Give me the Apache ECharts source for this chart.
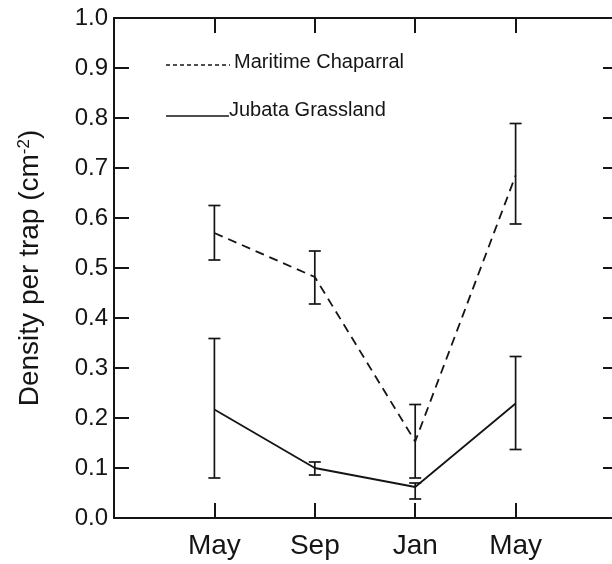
<!DOCTYPE html>
<html>
<head>
<meta charset="utf-8">
<style>
  body { margin: 0; padding: 0; background: #fff; }
  #chart { width: 612px; height: 564px; }
</style>
<script src="https://cdn.jsdelivr.net/npm/echarts@6/dist/echarts.min.js"></script>
</head>
<body>
<div id="chart"></div>
<script>
// sampling months, left to right
var months = ['May', 'Sep', 'Jan', 'May'];

// Maritime Chaparral (dashed)
var chaparral = [0.570, 0.482, 0.153, 0.685];
var chaparralLow = [0.516, 0.428, 0.080, 0.588];
var chaparralHigh = [0.625, 0.534, 0.227, 0.789];

// Jubata Grassland (solid)
var grassland = [0.217, 0.100, 0.062, 0.229];
var grasslandLow = [0.080, 0.086, 0.038, 0.137];
var grasslandHigh = [0.359, 0.112, 0.070, 0.323];

var ink = '#151515';
var font = '"Liberation Sans", Arial, Helvetica, sans-serif';

function pts(vals) {
    return vals.map(function (v, i) { return [i + 1, v]; });
}
function bars(lo, hi) {
    return lo.map(function (v, i) { return [i + 1, v, hi[i]]; });
}

function errorBar(params, api) {
    var x = api.value(0);
    var a = api.coord([x, api.value(1)]);
    var b = api.coord([x, api.value(2)]);
    var w = 6;
    var st = { stroke: ink, lineWidth: 1.7 };
    return {
        type: 'group',
        children: [
            { type: 'line', shape: { x1: a[0], y1: a[1], x2: b[0], y2: b[1] }, style: st },
            { type: 'line', shape: { x1: a[0] - w, y1: a[1], x2: a[0] + w, y2: a[1] }, style: st },
            { type: 'line', shape: { x1: b[0] - w, y1: b[1], x2: b[0] + w, y2: b[1] }, style: st }
        ]
    };
}

var tickStyle = { color: ink, width: 2 };
var lineStyle = { color: ink, width: 2 };

var chart = echarts.init(document.getElementById('chart'));
chart.setOption({
    animation: false,
    backgroundColor: '#fff',
    // right frame edge sits just past the canvas, as in the original
    grid: { left: 114, top: 18, width: 502, height: 500, outerBoundsMode: 'none' },
    xAxis: [
        {
            type: 'value', min: 0, max: 5, position: 'bottom',
            axisLine: { show: true, onZero: false, lineStyle: lineStyle },
            splitLine: { show: false },
            axisTick: { inside: true, length: 15, customValues: [1, 2, 3, 4], lineStyle: tickStyle },
            axisLabel: {
                customValues: [1, 2, 3, 4],
                formatter: function (v) { return months[v - 1]; },
                fontSize: 28, color: ink, fontFamily: font, margin: 14
            }
        },
        {
            type: 'value', min: 0, max: 5, interval: 1, position: 'top',
            axisLine: { show: true, onZero: false, lineStyle: lineStyle },
            splitLine: { show: false },
            axisTick: { show: true, inside: true, length: 15, lineStyle: tickStyle },
            axisLabel: { show: false }
        }
    ],
    yAxis: [
        {
            type: 'value', min: 0, max: 1, interval: 0.1, position: 'left',
            axisLine: { show: true, onZero: false, lineStyle: lineStyle },
            splitLine: { show: false },
            axisTick: { inside: true, length: 15, lineStyle: tickStyle },
            axisLabel: {
                formatter: function (v) { return v.toFixed(1); },
                fontSize: 24, color: ink, fontFamily: font, margin: 6
            },
            name: '{a|Density per trap (cm}{s|-2}{a|)}',
            nameLocation: 'middle',
            nameGap: 70,
            nameTextStyle: {
                rich: {
                    a: { fontSize: 28, color: ink, fontFamily: font },
                    s: { fontSize: 17, color: ink, fontFamily: font, verticalAlign: 'top' }
                }
            }
        },
        {
            type: 'value', min: 0, max: 1, interval: 0.1, position: 'right',
            axisLine: { show: true, onZero: false, lineStyle: lineStyle },
            splitLine: { show: false },
            axisTick: { show: true, inside: true, length: 13, lineStyle: tickStyle },
            axisLabel: { show: false }
        }
    ],
    series: [
        {
            name: 'Maritime Chaparral', type: 'line', data: pts(chaparral),
            symbol: 'none', lineStyle: { color: ink, width: 1.8, type: [9, 6] }
        },
        {
            name: 'Jubata Grassland', type: 'line', data: pts(grassland),
            symbol: 'none', lineStyle: { color: ink, width: 1.8 }
        },
        { type: 'custom', data: bars(chaparralLow, chaparralHigh), renderItem: errorBar, encode: { x: 0, y: [1, 2] } },
        { type: 'custom', data: bars(grasslandLow, grasslandHigh), renderItem: errorBar, encode: { x: 0, y: [1, 2] } }
    ],
    graphic: [
        { type: 'line', shape: { x1: 166, y1: 65, x2: 230, y2: 65 }, style: { stroke: ink, lineWidth: 1.5, lineDash: [4, 3] } },
        { type: 'text', left: 234, top: 52, style: { text: 'Maritime Chaparral', font: '20px ' + font, fill: ink } },
        { type: 'line', shape: { x1: 166, y1: 116, x2: 229, y2: 116 }, style: { stroke: ink, lineWidth: 1.7 } },
        { type: 'text', left: 229, top: 100, style: { text: 'Jubata Grassland', font: '20px ' + font, fill: ink } }
    ]
});
</script>
</body>
</html>
